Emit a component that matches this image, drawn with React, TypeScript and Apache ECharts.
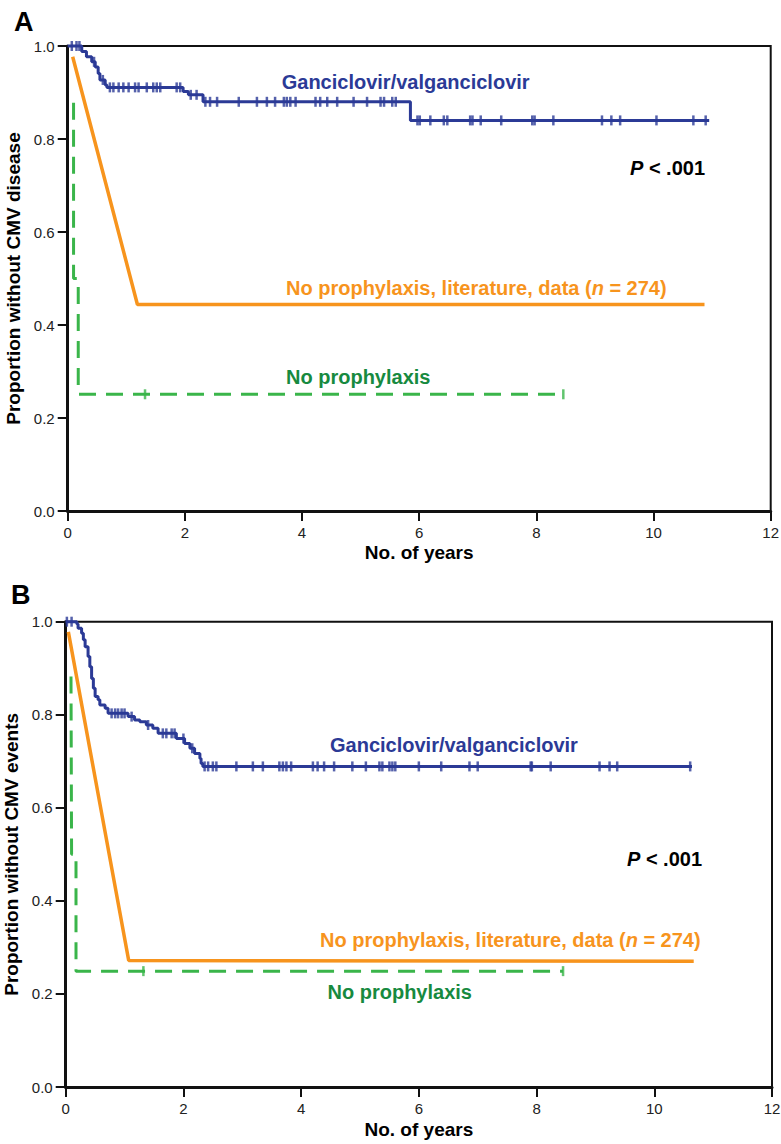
import React, { useEffect, useRef } from "react";
import * as echarts from "echarts";

// ---------- data ----------
const xTicks = [0, 2, 4, 6, 8, 10, 12];
const yTicks = [0, 0.2, 0.4, 0.6, 0.8, 1.0];

// Panel A – CMV disease
const gancA_t = [0, 0.24, 0.32, 0.41, 0.47, 0.52, 0.55, 0.64, 0.67, 1.97, 2.06, 2.31, 5.85, 10.95];
const gancA_s = [1.0, 0.988, 0.977, 0.966, 0.955, 0.941, 0.927, 0.916, 0.911, 0.902, 0.895, 0.88, 0.84, 0.84];
const gancA_censor = [0.07, 0.15, 0.2, 0.45, 0.6, 0.72, 0.78, 0.87, 0.95, 1.04, 1.15, 1.21, 1.35, 1.46, 1.52, 1.58, 1.86, 1.92, 2.1, 2.2, 2.35, 2.43, 2.55, 2.92, 3.23, 3.4, 3.54, 3.69, 3.74, 3.8, 3.89, 4.23, 4.31, 4.43, 4.6, 4.88, 5.11, 5.34, 5.4, 5.54, 5.6, 5.97, 6.01, 6.19, 6.42, 6.48, 6.87, 6.91, 7.05, 7.4, 7.93, 7.97, 8.29, 9.12, 9.28, 9.43, 10.05, 10.68, 10.89];
const litA_t = [0.085, 1.19, 10.87];
const litA_s = [0.977, 0.444, 0.444];
const noA_t = [0.1, 0.1, 0.18, 0.18, 8.46];
const noA_s = [0.878, 0.5, 0.5, 0.251, 0.251];
const noA_censor = [1.32, 8.46];

// Panel B – CMV events
const gancB_t = [0, 0.19, 0.21, 0.27, 0.3, 0.33, 0.38, 0.41, 0.44, 0.47, 0.5, 0.55, 0.58, 0.67, 0.72, 1.06, 1.17, 1.26, 1.37, 1.48, 1.57, 1.88, 2.02, 2.11, 2.19, 2.28, 2.3, 2.33, 10.64];
const gancB_s = [1.0, 0.995, 0.986, 0.975, 0.961, 0.946, 0.925, 0.903, 0.878, 0.857, 0.839, 0.832, 0.821, 0.814, 0.803, 0.796, 0.789, 0.785, 0.778, 0.771, 0.76, 0.749, 0.738, 0.728, 0.717, 0.706, 0.695, 0.689, 0.689];
const gancB_censor = [0.02, 0.1, 0.78, 0.84, 0.89, 0.95, 1.0, 1.12, 1.4, 1.65, 1.71, 1.8, 1.85, 2.0, 2.15, 2.36, 2.42, 2.5, 2.56, 2.9, 3.18, 3.35, 3.63, 3.69, 3.75, 3.83, 4.2, 4.28, 4.39, 4.56, 4.87, 5.1, 5.33, 5.38, 5.5, 5.55, 5.6, 6.0, 6.38, 6.86, 7.0, 7.9, 7.92, 8.24, 9.07, 9.24, 9.37, 10.61];
const litB_t = [0.045, 1.07, 10.67];
const litB_s = [0.978, 0.272, 0.27];
const noB_t = [0.09, 0.1, 0.175, 0.175, 8.45];
const noB_s = [0.882, 0.5, 0.5, 0.249, 0.249];
const noB_censor = [1.32, 8.45];

// ---------- styles ----------
const BLUE = "#2b3a96";
const ORANGE = "#f7941d";
const GREEN_LINE = "#3ab54a";
const GREEN_TEXT = "#178a3f";
const FONT = "'Liberation Sans', Arial, Helvetica, sans-serif";

const pairs = (t: number[], s: number[]) => t.map((v, i) => [v, s[i]]);
const kmAt = (t: number[], s: number[], x: number) => {
  let v = s[0];
  for (let i = 0; i < t.length; i++) if (t[i] <= x) v = s[i];
  return v;
};
const censorPts = (c: number[], t: number[], s: number[]) => c.map((x) => [x, kmAt(t, s, x)]);

function xAxisCfg(gridIndex: number, nameGap: number) {
  return {
    type: "value",
    gridIndex,
    min: 0,
    max: 12,
    interval: 2,
    name: "No. of years",
    nameLocation: "middle",
    nameGap,
    nameTextStyle: { fontFamily: FONT, fontWeight: "bold", fontSize: 19, color: "#000" },
    axisLine: { show: true, onZero: false, lineStyle: { color: "#111", width: 3 } },
    axisTick: { show: true, length: 10, lineStyle: { color: "#111", width: 2 } },
    axisLabel: {
      margin: 14,
      fontFamily: FONT,
      fontSize: 15,
      color: "#222",
      formatter: (v: number) => (xTicks.includes(v) ? String(v) : ""),
    },
    splitLine: { show: false },
  };
}

function yAxisCfg(gridIndex: number, name: string) {
  return {
    type: "value",
    gridIndex,
    min: 0,
    max: 1,
    interval: 0.2,
    name,
    nameLocation: "middle",
    nameRotate: 90,
    nameGap: 37,
    nameTextStyle: { fontFamily: FONT, fontWeight: "bold", fontSize: 19, color: "#000" },
    axisLine: { show: true, onZero: false, lineStyle: { color: "#111", width: 3 } },
    axisTick: { show: true, length: 10, lineStyle: { color: "#111", width: 2 } },
    axisLabel: {
      margin: 13,
      fontFamily: FONT,
      fontSize: 15,
      color: "#222",
      formatter: (v: number) => (yTicks.some((y) => Math.abs(y - v) < 1e-9) ? v.toFixed(1) : ""),
    },
    splitLine: { show: false },
  };
}

function panelSeries(
  idx: number,
  gT: number[], gS: number[], gC: number[],
  lT: number[], lS: number[],
  nT: number[], nS: number[], nC: number[]
) {
  const common = { xAxisIndex: idx, yAxisIndex: idx, clip: false, silent: true };
  return [
    {
      ...common,
      type: "line",
      data: pairs(lT, lS),
      showSymbol: false,
      symbol: "none",
      lineStyle: { color: ORANGE, width: 3.5 },
      z: 2,
    },
    {
      ...common,
      type: "line",
      data: pairs(nT, nS),
      showSymbol: false,
      symbol: "none",
      lineStyle: { color: GREEN_LINE, width: 3, type: [17, 10] },
      z: 2,
    },
    {
      ...common,
      type: "scatter",
      data: censorPts(nC, nT, nS),
      symbol: "rect",
      symbolSize: [2.5, 10],
      itemStyle: { color: GREEN_LINE },
      z: 3,
    },
    {
      ...common,
      type: "line",
      step: "end",
      data: pairs(gT, gS),
      showSymbol: false,
      symbol: "none",
      lineStyle: { color: BLUE, width: 3 },
      z: 4,
    },
    {
      ...common,
      type: "scatter",
      data: censorPts(gC, gT, gS),
      symbol: "rect",
      symbolSize: [2.5, 10],
      itemStyle: { color: BLUE },
      z: 5,
    },
  ];
}

function label(x: number, y: number, text: string, color: string, size = 20, rich?: any) {
  return {
    type: "text",
    x,
    y,
    silent: true,
    z: 10,
    style: {
      text,
      fill: color,
      fontFamily: FONT,
      fontWeight: "bold",
      fontSize: size,
      textVerticalAlign: "middle",
      verticalAlign: "middle",
      rich,
    },
  };
}

const italicRich = (color: string) => ({
  i: { fontStyle: "italic", fontWeight: "bold", fontSize: 20, fontFamily: FONT, fill: color, color },
  r: { fontWeight: "bold", fontSize: 20, fontFamily: FONT, fill: color, color },
});

export default function App() {
  const ref = useRef<HTMLDivElement>(null);
  useEffect(() => {
    if (!ref.current) return;
    const chart = echarts.init(ref.current, undefined, { renderer: "svg" });
    const option: any = {
      animation: false,
      backgroundColor: "#fff",
      grid: [
        { left: 67.7, top: 46, width: 703, height: 465, show: true, borderColor: "#111", borderWidth: 2, backgroundColor: "transparent", containLabel: false, outerBoundsMode: "none" },
        { left: 65.7, top: 621.7, width: 706.3, height: 465.3, show: true, borderColor: "#111", borderWidth: 2, backgroundColor: "transparent", containLabel: false, outerBoundsMode: "none" },
      ],
      xAxis: [xAxisCfg(0, 32), xAxisCfg(1, 33)],
      yAxis: [yAxisCfg(0, "Proportion without CMV disease"), yAxisCfg(1, "Proportion without CMV events")],
      series: [
        ...panelSeries(0, gancA_t, gancA_s, gancA_censor, litA_t, litA_s, noA_t, noA_s, noA_censor),
        ...panelSeries(1, gancB_t, gancB_s, gancB_censor, litB_t, litB_s, noB_t, noB_s, noB_censor),
      ],
      graphic: [
        label(14, 22, "A", "#000", 27),
        label(11, 595, "B", "#000", 27),
        label(281.7, 82, "Ganciclovir/valganciclovir", BLUE),
        label(630, 167.5, "{i|P}{r| < .001}", "#000", 20, italicRich("#000")),
        label(286, 287.5, "{r|No prophylaxis, literature, data (}{i|n}{r| = 274)}", ORANGE, 20, italicRich(ORANGE)),
        label(286, 377, "No prophylaxis", GREEN_TEXT),
        label(330, 745, "Ganciclovir/valganciclovir", BLUE),
        label(627, 859, "{i|P}{r| < .001}", "#000", 20, italicRich("#000")),
        label(320, 940, "{r|No prophylaxis, literature, data (}{i|n}{r| = 274)}", ORANGE, 20, italicRich(ORANGE)),
        label(327.5, 991.5, "No prophylaxis", GREEN_TEXT),
      ],
    };
    chart.setOption(option);
    return () => chart.dispose();
  }, []);
  return (
    <div
      ref={ref}
      style={{ position: "absolute", left: 0, top: 0, width: 781, height: 1144 }}
    />
  );
}
